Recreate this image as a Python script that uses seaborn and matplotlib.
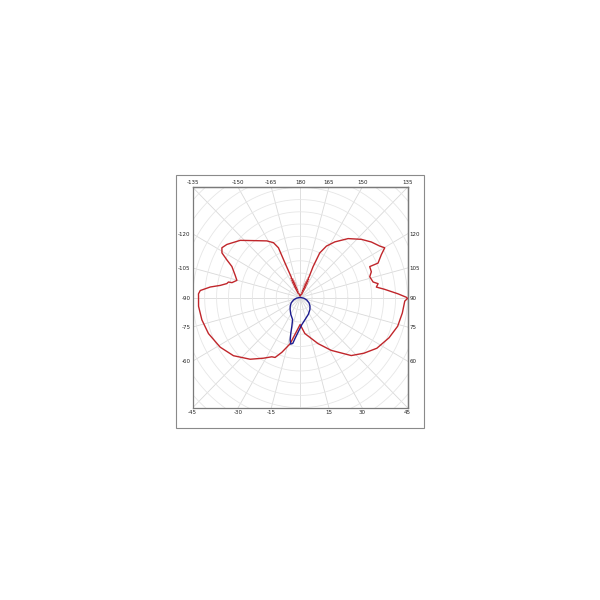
import numpy as np
import pandas as pd
import matplotlib
matplotlib.use("Agg")
import matplotlib.pyplot as plt
import seaborn as sns
from matplotlib.patches import Rectangle

# ---- data (angle in degrees, 0 at bottom, counter-clockwise; radius normalised, 1 = frame edge)
red_angle = [180, 160, 151, 160, 151, 161, 151, 160, 151, 160, 152, 160, 152, 159, 153,
             158, 154, 157, 156, 156.7, 155.7, 152.3, 147.4,
             140.1, 132.8, 127.2, 122.2, 119.8, 117.2, 113.3, 113.4, 109.4, 106.2, 101.7,
             99.8, 97.6, 95.4, 92.1, 90.1, 89.5, 88.1, 81.6, 74.0, 66.2, 57.2, 49.6, 42.1,
             31.1, 21.7, 7.7, 0, -12.5, -18.9, -23.2, -26.1, -31.8, -39.7, -49.6, -58.8,
             -69.0, -77.5, -85.2, -90.8, -92.0, -93.9, -96.5, -98.4, -100.5, -101.9,
             -102.0, -104.8, -108.5, -113.9, -116.6, -119.1, -121.8, -125.2, -132.9,
             -139.9, -148.9, -153.5, -155.9, -155.8, -156, -154, -158, -153, -159, -152,
             -160, -152, -160, -151, -160, -151, -161, -151, -160, -151, -160, -165, -180]
red_radius = [0.015, 0.03, 0.04, 0.05, 0.06, 0.07, 0.08, 0.09, 0.10, 0.11, 0.12, 0.13,
              0.14, 0.15, 0.16, 0.17, 0.18, 0.19, 0.20, 0.306, 0.444,
              0.527, 0.599, 0.697, 0.777, 0.833, 0.876, 0.908, 0.850, 0.790, 0.706, 0.703,
              0.675, 0.694, 0.737, 0.716, 0.790, 0.912, 0.99, 1.0, 0.975, 0.962, 0.945,
              0.905, 0.85, 0.78, 0.71, 0.56, 0.45, 0.33, 0.245, 0.43, 0.526, 0.592, 0.599,
              0.648, 0.728, 0.815, 0.870, 0.914, 0.937, 0.949, 0.946, 0.947, 0.932, 0.842,
              0.752, 0.694, 0.682, 0.649, 0.609, 0.638, 0.695, 0.763, 0.833, 0.857, 0.835,
              0.762, 0.675, 0.600, 0.556, 0.494, 0.342, 0.20, 0.19, 0.18, 0.17, 0.16, 0.15,
              0.14, 0.13, 0.12, 0.11, 0.10, 0.09, 0.08, 0.07, 0.06, 0.05, 0.04, 0.03, 0.015]

blue_angle = [180, 90, 80, 70, 60, 50, 40, 27, 13, 3.6, -2.9, -7.2, -9.3, -11.8, -13.5,
              -15.0, -16.4, -19.3, -29.6, -41, -50, -60, -70, -80, -90, -180]
blue_radius = [0.0, 0.005, 0.035, 0.065, 0.095, 0.12, 0.142, 0.17, 0.205, 0.247, 0.309,
               0.373, 0.422, 0.432, 0.397, 0.335, 0.273, 0.212, 0.176, 0.142, 0.12, 0.095,
               0.065, 0.035, 0.005, 0.0]

bottom_ticks = [-45, -30, -15, 15, 30, 45]
top_ticks = [-135, -150, -165, 180, 165, 150, 135]
left_ticks = [-60, -75, -90, -105, -120]
right_ticks = [60, 75, 90, 105, 120]

sns.set_theme(style="white")
plt.rcParams['font.family'] = ['DejaVu Sans']

fig = plt.figure(figsize=(6, 6), dpi=100)
ax = fig.add_axes([0.3212, 0.3205, 0.358, 0.3673])


def to_xy(ang, rad):
    t = np.deg2rad(np.asarray(ang, float))
    r = np.asarray(rad, float)
    return r * np.sin(t), -r * np.cos(t)


# polar grid
for a in range(0, 360, 15):
    t = np.deg2rad(a)
    ax.plot([0, 2 * np.sin(t)], [0, -2 * np.cos(t)], color='#d9d9d9', lw=0.6, zorder=0)
phi = np.linspace(0, 2 * np.pi, 361)
for k in range(1, 14):
    rr = k / 9
    ax.plot(rr * np.cos(phi), rr * np.sin(phi), color='#e6e6e6', lw=0.6, zorder=0)

rx, ry = to_xy(red_angle, red_radius)
bx, by = to_xy(blue_angle, blue_radius)
red_df = pd.DataFrame({'x': rx, 'y': ry})
blue_df = pd.DataFrame({'x': bx, 'y': by})
sns.lineplot(data=red_df, x='x', y='y', sort=False, estimator=None, color='#c0262b',
             lw=1.0, ax=ax, zorder=3)
sns.lineplot(data=blue_df, x='x', y='y', sort=False, estimator=None, color='#1c1c8f',
             lw=1.0, ax=ax, zorder=4)

ax.set_xlim(-1, 1)
ax.set_ylim(-1, 1)
ax.set_xlabel('')
ax.set_ylabel('')

tick_kw = dict(length=0, labelsize=4, pad=1.5, labelcolor='#222222')
ax.set_xticks(np.tan(np.deg2rad(bottom_ticks)), labels=[str(v) for v in bottom_ticks])
ax.set_yticks(1 / np.tan(np.deg2rad(left_ticks)), labels=[str(v) for v in left_ticks])
ax.tick_params(**tick_kw)

sec_top = ax.secondary_xaxis('top')
sec_top.set_xticks(-np.tan(np.deg2rad(top_ticks)), labels=[str(v) for v in top_ticks])
sec_top.tick_params(**tick_kw)
sec_right = ax.secondary_yaxis('right')
sec_right.set_yticks(-1 / np.tan(np.deg2rad(right_ticks)), labels=[str(v) for v in right_ticks])
sec_right.tick_params(**tick_kw)

for s in list(ax.spines.values()) + list(sec_top.spines.values()) + list(sec_right.spines.values()):
    s.set_color('#7a7a7a')
    s.set_linewidth(0.9)

fig.patches.append(Rectangle((0.2933, 0.2867), 0.4134, 0.4216, transform=fig.transFigure,
                             fill=False, edgecolor='#8a8a8a', lw=0.8))

fig.savefig('out.png', dpi=100, facecolor='white')
